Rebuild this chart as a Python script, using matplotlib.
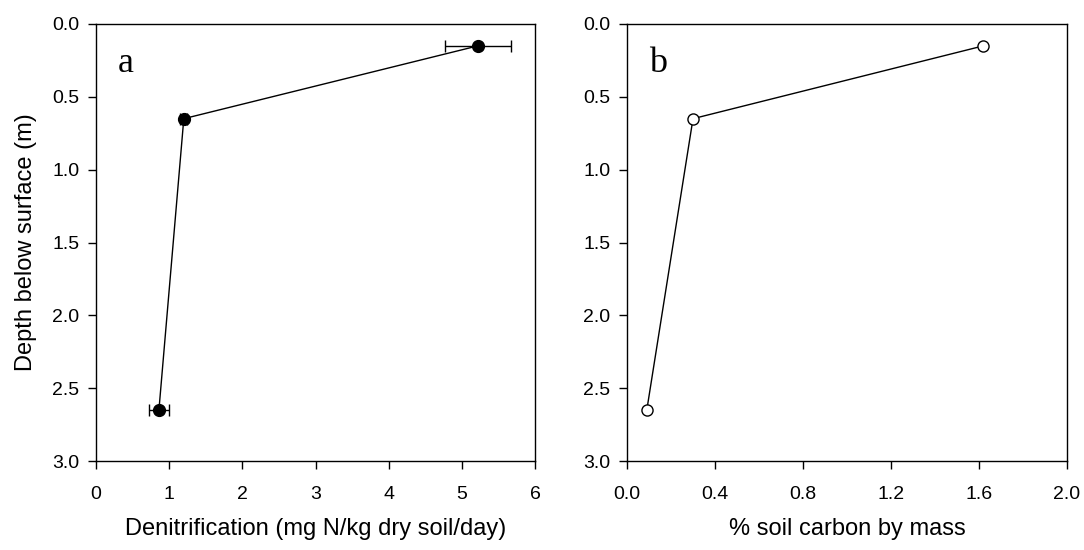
import numpy as np
import matplotlib
matplotlib.use("Agg")
import matplotlib.pyplot as plt

plt.rcParams['font.family'] = ['Liberation Sans', 'DejaVu Sans']

# panel a - denitrification vs depth
depth = [0.15, 0.65, 2.65]
denit = [5.22, 1.20, 0.86]
denit_err = [0.45, 0.05, 0.14]
# panel b - soil carbon vs depth
carbon = [1.62, 0.30, 0.09]

fig = plt.figure(figsize=(10.84, 5.5), dpi=100)
ax1 = fig.add_axes([96/1084, 1-461/550, 439/1084, 437/550])
ax2 = fig.add_axes([627/1084, 1-461/550, 440/1084, 437/550])

ax1.errorbar(denit, depth, xerr=denit_err, color='black', lw=1, elinewidth=1,
             capsize=4, capthick=1, marker='o', ms=8.5, mfc='black', mec='black')
ax2.plot(carbon, depth, color='black', lw=1, marker='o', ms=8, mfc='white', mec='black', mew=1)

ax1.set_xlim(0, 6)
ax1.set_xticks(np.arange(0, 7, 1))
ax2.set_xlim(0, 2.0)
ax2.set_xticks([0.0, 0.4, 0.8, 1.2, 1.6, 2.0])
ax2.set_xticklabels(['0.0', '0.4', '0.8', '1.2', '1.6', '2.0'])

for ax in (ax1, ax2):
    ax.set_ylim(3.0, 0.0)
    ax.set_yticks([0.0, 0.5, 1.0, 1.5, 2.0, 2.5, 3.0])
    ax.set_yticklabels(['0.0', '0.5', '1.0', '1.5', '2.0', '2.5', '3.0'])
    ax.tick_params(direction='out', length=6, width=1, labelsize=14)
    ax.tick_params(axis='y', pad=6)
    ax.tick_params(axis='x', pad=12)
    for s in ax.spines.values():
        s.set_linewidth(1)

ax1.set_xlabel('Denitrification (mg N/kg dry soil/day)', fontsize=17, labelpad=11)
ax2.set_xlabel('% soil carbon by mass', fontsize=17, labelpad=11)
ax1.set_ylabel('Depth below surface (m)', fontsize=17, labelpad=11)

ax1.text(0.05, 0.89, 'a', transform=ax1.transAxes, fontsize=26, family='Liberation Serif')
ax2.text(0.05, 0.89, 'b', transform=ax2.transAxes, fontsize=26, family='Liberation Serif')

fig.savefig('out.png', dpi=100, facecolor='white')
